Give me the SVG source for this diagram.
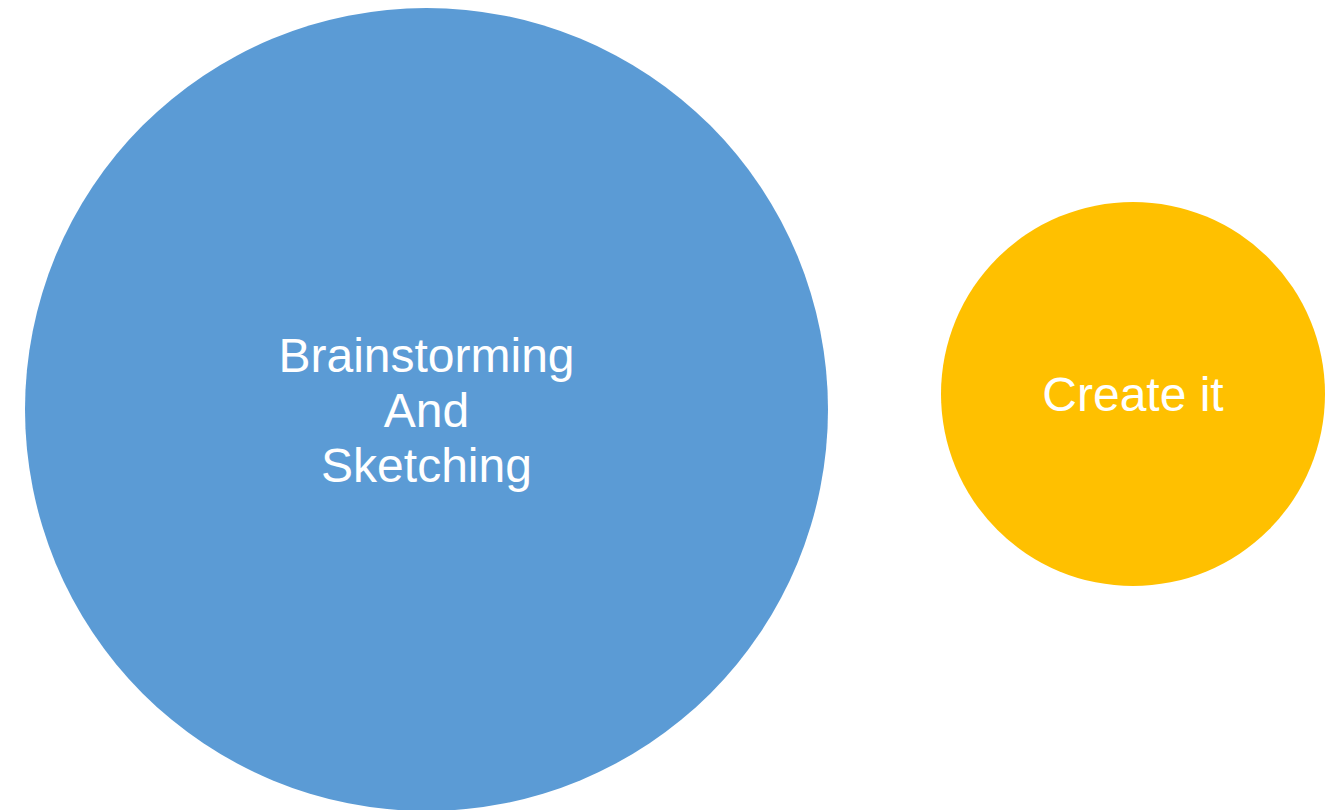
<svg xmlns="http://www.w3.org/2000/svg" width="1342" height="810" viewBox="0 0 1342 810">
<style>
.lbl{font-family:"Liberation Sans",Arial,sans-serif;font-size:48px;fill:#FFFFFF;text-anchor:middle}
</style>
<rect width="1342" height="810" fill="#FFFFFF"/>
<g id="connectors"></g>
<g id="node-brainstorming">
<circle cx="426.5" cy="409.5" r="401.5" fill="#5B9BD5"/>
<text class="lbl" x="426.5" y="372">Brainstorming</text>
<text class="lbl" x="426.5" y="427">And</text>
<text class="lbl" x="426.5" y="482">Sketching</text>
</g>
<g id="node-create">
<circle cx="1133" cy="394" r="192" fill="#FFC000"/>
<text class="lbl" x="1133" y="411">Create it</text>
</g>
</svg>
